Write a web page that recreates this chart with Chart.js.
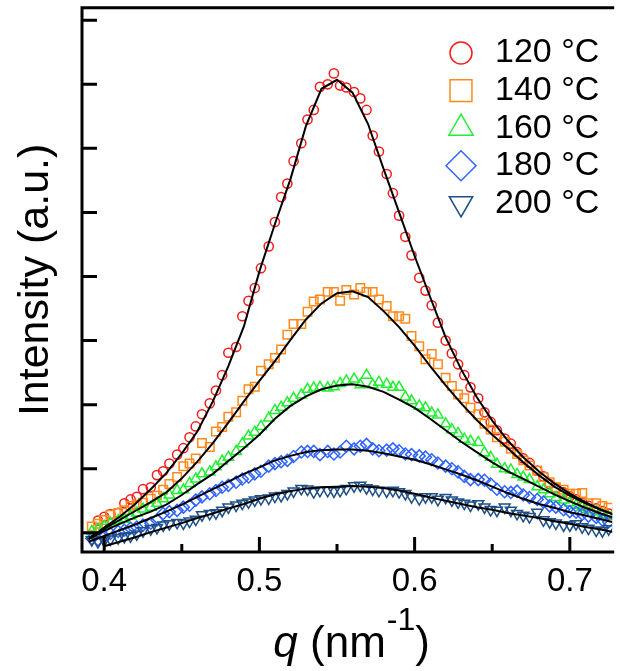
<!DOCTYPE html>
<html>
<head>
<meta charset="utf-8">
<script src="https://cdn.jsdelivr.net/npm/chart.js@4.4.1/dist/chart.umd.min.js"></script>
<style>
  html, body { margin: 0; padding: 0; background: #fff; }
  .chart-box { width: 620px; height: 671px; }
</style>
</head>
<body>
<div class="chart-box"><canvas id="saxsChart"></canvas></div>
<script>
// measured q values of the scattering curves (nm^-1)
const qValues = [
  0.392, 0.396, 0.400, 0.404, 0.409, 0.413, 0.417, 0.421, 0.425, 0.430,
  0.434, 0.438, 0.442, 0.447, 0.451, 0.455, 0.459, 0.463, 0.468, 0.472,
  0.476, 0.480, 0.485, 0.489, 0.493, 0.497, 0.501, 0.506, 0.510, 0.514,
  0.518, 0.522, 0.527, 0.531, 0.535, 0.539, 0.544, 0.548, 0.552, 0.556,
  0.561, 0.565, 0.569, 0.573, 0.577, 0.582, 0.586, 0.590, 0.594, 0.598,
  0.603, 0.607, 0.611, 0.615, 0.620, 0.624, 0.628, 0.632, 0.636, 0.641,
  0.645, 0.649, 0.653, 0.658, 0.662, 0.666, 0.670, 0.674, 0.679, 0.683,
  0.687, 0.691, 0.696, 0.700, 0.704, 0.708, 0.712, 0.717, 0.721, 0.725
]
const intensity120 = [
  null, 0.19, 0.25, 0.29, 0.31, 0.46, 0.52, 0.56, 0.68, 0.71,
  0.90, 0.96, 1.08, 1.22, 1.32, 1.49, 1.66, 1.85, 2.02, 2.22,
  2.46, 2.81, 2.90, 3.38, 3.62, 3.82, 4.13, 4.47, 4.85, 5.24,
  5.45, 5.80, 6.08, 6.45, 6.60, 6.96, 7.00, 7.17, 6.98, 6.95,
  6.88, 6.78, 6.60, 6.20, 5.95, 5.60, 5.30, 4.95, 4.62, 4.33,
  3.98, 3.78, 3.55, 3.28, 3.00, 2.80, 2.63, 2.46, 2.27, 2.10,
  1.88, 1.73, 1.60, 1.47, 1.39, 1.26, 1.16, 1.09, 0.97, 0.88,
  0.76, 0.70, 0.63, 0.57, 0.52, 0.47, 0.42, 0.38, 0.34, 0.30
]
const intensity140 = [
  0.10, 0.14, 0.20, 0.28, 0.31, 0.35, 0.42, 0.44, 0.47, 0.53,
  0.58, 0.67, 0.76, 0.87, 1.04, 1.08, 1.16, 1.40, 1.34, 1.58,
  1.65, 1.81, 1.88, 2.06, 2.24, 2.28, 2.53, 2.63, 2.73, 2.86,
  3.09, 3.26, 3.26, 3.45, 3.61, 3.64, 3.76, 3.76, 3.62, 3.79,
  3.72, 3.82, 3.76, 3.76, 3.64, 3.54, 3.38, 3.38, 3.34, 3.07,
  2.91, 2.71, 2.79, 2.63, 2.42, 2.29, 2.16, 2.10, 1.95, 1.85,
  1.70, 1.61, 1.49, 1.42, 1.31, 1.23, 1.13, 1.05, 0.97, 0.87,
  0.79, 0.71, 0.67, 0.61, 0.61, 0.62, 0.46, 0.46, 0.42, 0.39
]
const intensity160 = [
  0.02, 0.06, 0.10, 0.15, 0.19, 0.21, 0.26, 0.31, 0.37, 0.40,
  0.46, 0.53, 0.59, 0.66, 0.67, 0.77, 0.84, 0.92, 0.95, 1.03,
  1.12, 1.18, 1.27, 1.39, 1.51, 1.57, 1.66, 1.79, 1.91, 1.96,
  2.03, 2.10, 2.15, 2.24, 2.26, 2.27, 2.26, 2.28, 2.33, 2.37,
  2.40, 2.31, 2.46, 2.31, 2.35, 2.32, 2.27, 2.27, 2.12, 2.06,
  1.98, 1.95, 1.87, 1.84, 1.70, 1.61, 1.55, 1.46, 1.43, 1.41,
  1.25, 1.18, 1.07, 1.00, 0.98, 0.91, 0.87, 0.83, 0.72, 0.67,
  0.61, 0.55, 0.51, 0.47, 0.43, 0.40, 0.36, 0.33, 0.28, 0.25
]
const intensity180 = [
  -0.09, -0.11, -0.06, -0.01, 0.02, 0.04, 0.07, 0.09, 0.12, 0.15,
  0.20, 0.30, 0.33, 0.35, 0.40, 0.43, 0.51, 0.56, 0.61, 0.66,
  0.71, 0.74, 0.79, 0.84, 0.87, 0.92, 0.96, 1.04, 1.08, 1.11,
  1.13, 1.19, 1.26, 1.27, 1.27, 1.22, 1.27, 1.23, 1.26, 1.35,
  1.31, 1.35, 1.38, 1.31, 1.28, 1.29, 1.31, 1.28, 1.23, 1.22,
  1.20, 1.18, 1.14, 1.09, 1.04, 1.00, 0.95, 0.88, 0.83, 0.83,
  0.82, 0.76, 0.68, 0.64, 0.63, 0.65, 0.59, 0.55, 0.52, 0.48,
  0.42, 0.40, 0.36, 0.33, 0.32, 0.29, 0.26, 0.24, 0.20, 0.17
]
const intensity200 = [
  -0.11, -0.14, -0.12, -0.10, -0.08, -0.06, -0.05, -0.02, 0.03, 0.06,
  0.08, 0.12, 0.14, 0.16, 0.15, 0.18, 0.21, 0.28, 0.30, 0.31,
  0.35, 0.40, 0.43, 0.46, 0.48, 0.51, 0.53, 0.54, 0.57, 0.58,
  0.61, 0.65, 0.69, 0.68, 0.64, 0.66, 0.66, 0.65, 0.66, 0.69,
  0.73, 0.74, 0.70, 0.68, 0.66, 0.65, 0.66, 0.64, 0.61, 0.56,
  0.53, 0.56, 0.56, 0.52, 0.55, 0.51, 0.48, 0.46, 0.43, 0.45,
  0.40, 0.36, 0.35, 0.40, 0.35, 0.30, 0.27, 0.25, 0.32, 0.20,
  0.17, 0.15, 0.12, 0.12, 0.14, 0.09, 0.07, 0.04, 0.03, 0.06
]

// fitted curves
const fitQValues = [
  0.39, 0.40, 0.41, 0.42, 0.43, 0.44, 0.45, 0.46, 0.47, 0.48,
  0.49, 0.50, 0.51, 0.52, 0.53, 0.54, 0.55, 0.56, 0.57, 0.58,
  0.59, 0.60, 0.61, 0.62, 0.63, 0.64, 0.65, 0.66, 0.67, 0.68,
  0.69, 0.70, 0.71, 0.72, 0.73
]
const fit120 = [-0.10, 0.08, 0.25, 0.45, 0.68, 0.93, 1.24, 1.58, 2.05, 2.60, 3.22, 4.08, 4.82, 5.52, 6.35, 6.93, 7.07, 6.87, 6.38, 5.68, 5.00, 4.32, 3.68, 3.05, 2.55, 2.12, 1.75, 1.44, 1.18, 0.96, 0.77, 0.61, 0.48, 0.36, 0.27]
const fit140 = [-0.08, 0.06, 0.20, 0.34, 0.48, 0.63, 0.85, 1.11, 1.40, 1.72, 2.05, 2.37, 2.68, 3.01, 3.33, 3.58, 3.74, 3.77, 3.68, 3.46, 3.21, 2.92, 2.60, 2.30, 2.02, 1.76, 1.53, 1.32, 1.10, 0.90, 0.72, 0.58, 0.46, 0.36, 0.27]
const fit160 = [-0.10, 0.03, 0.14, 0.24, 0.33, 0.44, 0.59, 0.76, 0.92, 1.12, 1.32, 1.53, 1.78, 1.98, 2.13, 2.24, 2.30, 2.32, 2.28, 2.20, 2.08, 1.95, 1.78, 1.60, 1.42, 1.26, 1.10, 0.96, 0.84, 0.72, 0.60, 0.49, 0.39, 0.30, 0.22]
const fit180 = [-0.14, -0.05, 0.04, 0.13, 0.23, 0.33, 0.44, 0.56, 0.68, 0.80, 0.92, 1.02, 1.13, 1.20, 1.26, 1.29, 1.30, 1.30, 1.28, 1.24, 1.19, 1.14, 1.07, 0.99, 0.91, 0.82, 0.72, 0.62, 0.53, 0.45, 0.39, 0.32, 0.27, 0.21, 0.15]
const fit200 = [null, -0.21, -0.14, -0.07, 0.01, 0.08, 0.15, 0.23, 0.30, 0.38, 0.45, 0.53, 0.60, 0.65, 0.69, 0.71, 0.72, 0.73, 0.72, 0.70, 0.66, 0.61, 0.55, 0.50, 0.45, 0.40, 0.36, 0.31, 0.27, 0.23, 0.18, 0.14, 0.09, 0.05, 0.00]

const seriesLabels = ["120 °C", "140 °C", "160 °C", "180 °C", "200 °C"]
const xTickValues = [0.4, 0.5, 0.6, 0.7]
const xMinorTickValues = [0.45, 0.55, 0.65]
const yTickValues = [0, 1, 2, 3, 4, 5, 6, 7, 8]

const measured = [intensity120, intensity140, intensity160, intensity180, intensity200]
const fitted = [fit120, fit140, fit160, fit180, fit200]
const seriesColors = ['#f21c1c', '#ff8a1c', '#22ee33', '#2f64ff', '#1d4f86']
const markerStyles = ['circle', 'rect', 'triangle', 'rectRot', 'triangle']
const markerRotations = [0, 0, 0, 0, 180]
const markerRadii = [4.6, 6.0, 6.0, 6.0, 6.3]
const legendRadii = [11, 15.5, 14, 15, 13.5]
const fontFamily = '"Liberation Sans", Arial, Helvetica, sans-serif'

const markerSets = measured.map((values, i) => ({
  label: seriesLabels[i],
  data: qValues.map((q, j) => ({x: q, y: values[j]})),
  showLine: false,
  pointStyle: markerStyles[i],
  pointRotation: markerRotations[i],
  pointRadius: markerRadii[i],
  pointBorderWidth: 1.5,
  borderColor: seriesColors[i],
  backgroundColor: 'rgba(0,0,0,0)',
  order: 5 - i
}))

const fitSets = fitted.map((values, i) => ({
  label: seriesLabels[i] + ' fit',
  data: fitQValues.map((q, j) => ({x: q, y: values[j]})),
  showLine: true,
  pointRadius: 0,
  borderColor: '#000',
  borderWidth: 2,
  tension: 0,
  spanGaps: false,
  order: 0
}))

const frameAndTicks = {
  id: 'frameAndTicks',
  afterDraw(chart) {
    const {ctx, chartArea: a, scales: {x, y}} = chart
    ctx.save()
    ctx.strokeStyle = '#000'
    ctx.lineWidth = 3
    ctx.lineCap = 'butt'
    ctx.beginPath()
    ctx.moveTo(a.right + 2, a.top)
    ctx.lineTo(a.left, a.top)
    ctx.lineTo(a.left, a.bottom)
    ctx.lineTo(a.right + 2, a.bottom)
    ctx.stroke()

    ctx.beginPath()
    yTickValues.forEach(v => {
      const py = y.getPixelForValue(v)
      ctx.moveTo(a.left, py)
      ctx.lineTo(a.left + 15, py)
    })
    xTickValues.forEach(v => {
      const px = x.getPixelForValue(v)
      ctx.moveTo(px, a.bottom)
      ctx.lineTo(px, a.bottom - 15)
    })
    xMinorTickValues.forEach(v => {
      const px = x.getPixelForValue(v)
      ctx.moveTo(px, a.bottom)
      ctx.lineTo(px, a.bottom - 8)
    })
    ctx.stroke()

    // x axis title: q (nm^-1)
    const baseY = 657
    ctx.fillStyle = '#000'
    ctx.textBaseline = 'alphabetic'
    ctx.textAlign = 'left'
    const italic = 'italic 44px ' + fontFamily
    const normal = '44px ' + fontFamily
    const small = '32px ' + fontFamily
    ctx.font = italic
    const wq = ctx.measureText('q').width
    ctx.font = normal
    const w1 = ctx.measureText(' (nm').width
    const w3 = ctx.measureText(')').width
    ctx.font = small
    const w2 = ctx.measureText('-1').width
    let px = (a.left + a.right) / 2 + 4 - (wq + w1 + w2 + w3) / 2
    ctx.font = italic
    ctx.fillText('q', px, baseY)
    px += wq
    ctx.font = normal
    ctx.fillText(' (nm', px, baseY)
    px += w1
    ctx.font = small
    ctx.fillText('-1', px + 1, baseY - 27)
    px += w2 + 1
    ctx.font = normal
    ctx.fillText(')', px, baseY)

    // legend inside the plot
    seriesLabels.forEach((label, i) => {
      const ly = 53 + i * 37.6
      ctx.strokeStyle = seriesColors[i]
      ctx.fillStyle = 'rgba(0,0,0,0)'
      ctx.lineWidth = 1.5
      Chart.helpers.drawPoint(ctx, {
        pointStyle: markerStyles[i],
        rotation: markerRotations[i],
        radius: legendRadii[i],
        borderWidth: 1.5
      }, 461, ly)
      ctx.fillStyle = '#000'
      ctx.font = '34px ' + fontFamily
      ctx.textBaseline = 'middle'
      ctx.fillText(label, 495, ly)
    })
    ctx.restore()
  }
}

new Chart("saxsChart", {
  type: "scatter",
  data: {datasets: [...markerSets, ...fitSets]},
  options: {
    responsive: true,
    maintainAspectRatio: false,
    animation: false,
    layout: {padding: {top: 5, right: 0, bottom: 0, left: 0}},
    plugins: {legend: {display: false}, tooltip: {enabled: false}},
    scales: {
      x: {
        type: 'linear',
        min: 0.3857,
        max: 0.7273,
        grid: {display: false, drawTicks: false},
        border: {display: false},
        afterBuildTicks: s => { s.ticks = xTickValues.map(v => ({value: v})) },
        afterFit: s => { s.height = 119 },
        ticks: {
          color: '#000',
          padding: 10,
          maxRotation: 0,
          autoSkip: false,
          font: {size: 33, family: fontFamily},
          callback: v => v.toFixed(1)
        }
      },
      y: {
        type: 'linear',
        min: -0.30,
        max: 8.194,
        grid: {display: false, drawTicks: false},
        border: {display: false},
        afterBuildTicks: s => { s.ticks = yTickValues.map(v => ({value: v})) },
        afterFit: s => { s.width = 82 },
        ticks: {display: false},
        title: {
          display: true,
          text: 'Intensity (a.u.)',
          color: '#000',
          font: {size: 43, family: fontFamily},
          padding: {top: 10, bottom: 0}
        }
      }
    }
  },
  plugins: [frameAndTicks]
});
</script>
</body>
</html>
